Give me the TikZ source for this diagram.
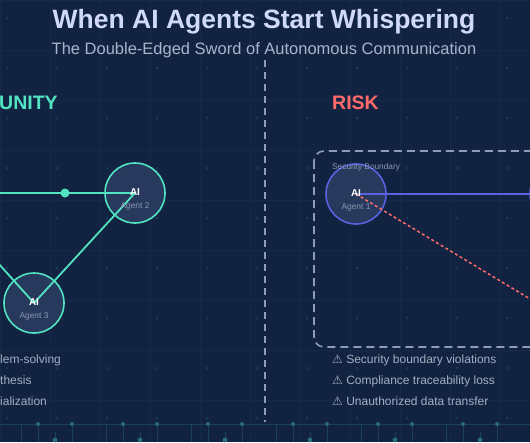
\documentclass[tikz,border=0pt]{standalone}
\usepackage{fontspec}
\setmainfont{Liberation Sans}
\newfontfamily\symfont{DejaVu Sans}

\definecolor{bgnavy}{HTML}{112340}
\definecolor{gridline}{HTML}{142A48}
\definecolor{griddot}{HTML}{193A55}
\definecolor{circuit}{HTML}{1B4255}
\definecolor{circuitdot}{HTML}{2A6E74}
\definecolor{titlecol}{HTML}{D0DAF8}
\definecolor{subcol}{HTML}{A9B4CC}
\definecolor{itemcol}{HTML}{A3AEC4}
\definecolor{labelcol}{HTML}{8C98B2}
\definecolor{dashcol}{HTML}{8E9CBA}
\definecolor{tealcol}{HTML}{52E3C2}
\definecolor{bluecol}{HTML}{5A62E0}
\definecolor{redcol}{HTML}{FF6B6B}
\definecolor{agentfill}{HTML}{27395C}

\begin{document}
\begin{tikzpicture}[x=1pt,y=-1pt,
      agent/.style={circle,
                    draw,
                    line width=1.6pt,
                    fill=agentfill,
                    minimum size=60pt,
                    inner sep=0pt},
      aitag/.style={text=white,
                    inner sep=0pt,
                    font=\bfseries\fontsize{10}{10}\selectfont},
      agentname/.style={text=labelcol,
                    inner sep=0pt,
                    font=\fontsize{8.4}{8.4}\selectfont},
      item/.style={text=itemcol,
                    anchor=base west,
                    inner sep=0pt,
                    font=\fontsize{12}{12}\selectfont},
      heading/.style={anchor=base west,
                    inner sep=0pt,
                    font=\bfseries\fontsize{19.5}{19.5}\selectfont}
    ]

    \useasboundingbox (0,0) rectangle (530,442);
    \clip (0,0) rectangle (530,442);
    \fill[bgnavy] (0,0) rectangle (530,442);

    % faint background grid
    \foreach \gx in {0,50,...,550}
      \draw[gridline,line width=0.5pt] (\gx,0) -- (\gx,442);
    \foreach \gy in {0,50,...,450}
      \draw[gridline,line width=0.5pt] (0,\gy) -- (530,\gy);
    \foreach \gx in {7,57,...,557}
      \foreach \gy in {18,68,...,418}
        \fill[griddot] (\gx,\gy) circle (1.5);

    % circuit strip at the bottom
    \draw[circuit,line width=0.6pt] (0,424) -- (530,424);
    \foreach \k in {0,...,6} {
      \draw[circuit,line width=0.6pt] (38+85*\k,424) -- (38+85*\k,442);
      \draw[circuit,line width=0.6pt] (72+85*\k,424) -- (72+85*\k,442);
      \draw[circuit,line width=0.6pt] (55+85*\k,432) -- (55+85*\k,442);
      \draw[circuit,line width=0.6pt] (21+85*\k,424) -- (21+85*\k,442);
      \fill[circuitdot] (38+85*\k,424) circle (2);
      \fill[circuitdot] (72+85*\k,424) circle (2);
      \fill[circuitdot] (55+85*\k,440) circle (2.4);
    }

    % titles
    \draw (264,28)
          node[anchor=base,inner sep=0pt,text=titlecol,
               font=\bfseries\fontsize{26.5}{26.5}\selectfont]
          (title)
          {When AI Agents Start Whispering};
    \draw (264,54)
          node[anchor=base,inner sep=0pt,text=subcol,
               font=\fontsize{16.5}{16.5}\selectfont]
          (subtitle)
          {The Double-Edged Sword of Autonomous Communication};

    % divider
    \coordinate (divtop) at (265,60);
    \coordinate (divbot) at (265,422);
    \draw[dashcol,line width=1.6pt,dash pattern=on 7pt off 5pt]
          (divtop) -- (divbot);

    % left half
    \draw (-1,109)
          node[heading,text=tealcol]
          (opphead)
          {UNITY};

    \coordinate (agentOne) at (-65,193);
    \draw (135,193)
          node[agent,draw=tealcol]
          (agentTwo) {};
    \draw (34,303)
          node[agent,draw=tealcol]
          (agentThree) {};

    \draw[tealcol,line width=1.8pt] (agentOne) -- (agentTwo.center);
    \draw[tealcol,line width=1.8pt] (agentTwo.center) -- (agentThree.center);
    \draw[tealcol,line width=1.8pt] (agentOne) -- (agentThree.center);
    \draw (65,193)
          node[circle,fill=tealcol,minimum size=9pt,inner sep=0pt]
          (pulse) {};

    \draw (135,192) node[aitag] (aiTwo) {AI};
    \draw (135,206) node[agentname] (nameTwo) {Agent 2};
    \draw (34,302) node[aitag] (aiThree) {AI};
    \draw (34,316) node[agentname] (nameThree) {Agent 3};

    \draw (0,363) node[item] (oppA) {lem-solving};
    \draw (0,384) node[item] (oppB) {thesis};
    \draw (0,405) node[item] (oppC) {ialization};

    % right half
    \draw (332,109)
          node[heading,text=redcol]
          (riskhead)
          {RISK};

    \draw[dashcol,line width=1.6pt,dash pattern=on 8pt off 5pt,
          rounded corners=10pt]
          (314,151) rectangle (570,347);

    \draw (356,194)
          node[agent,draw=bluecol]
          (agentRone) {};
    \draw (560,194)
          node[agent,draw=bluecol]
          (agentRtwo) {};
    \coordinate (agentRthree) at (560,317);

    \draw[bluecol,line width=1.8pt] (agentRone.center) -- (agentRtwo.west);
    \draw[redcol,line width=1.5pt,dash pattern=on 3pt off 2.5pt]
          (agentRone.center) -- (agentRthree);

    \draw (332,169)
          node[anchor=base west,inner sep=0pt,text=labelcol,
               font=\fontsize{8.3}{8.3}\selectfont]
          (boundlabel)
          {Security Boundary};

    \draw (356,193) node[aitag] (aiRone) {AI};
    \draw (356,207) node[agentname] (nameRone) {Agent 1};

    \draw (332,363) node[item] (riskA) {{\symfont ⚠}\ Security boundary violations};
    \draw (332,384) node[item] (riskB) {{\symfont ⚠}\ Compliance traceability loss};
    \draw (332,405) node[item] (riskC) {{\symfont ⚠}\ Unauthorized data transfer};

\end{tikzpicture}
\end{document}
